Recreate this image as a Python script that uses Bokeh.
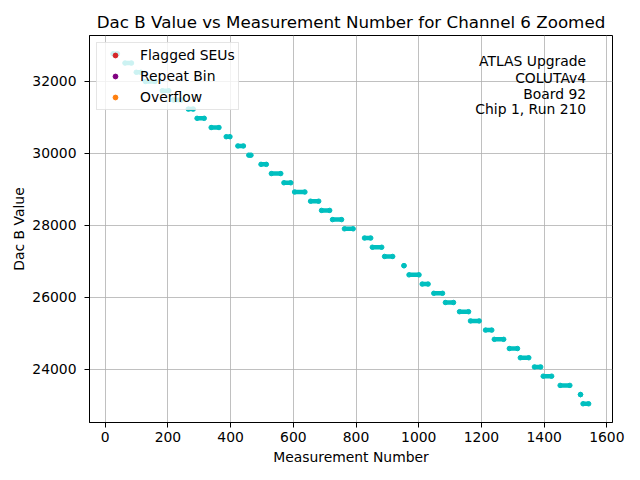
from bokeh.plotting import figure
from bokeh.models import FixedTicker, Label, Range1d
from bokeh.embed import file_html
from bokeh.resources import INLINE

# each run of measurements sitting on one DAC code: first and last measurement number
step_value = [32768, 32512, 32256, 32000, 31744, 31488, 31232, 30976, 30720, 30464,
              30208, 29952, 29696, 29440, 29184, 28928, 28672, 28416, 28160, 27904,
              27648, 27392, 27136, 26880, 26624, 26368, 26112, 25856, 25600, 25344,
              25088, 24832, 24576, 24320, 24064, 23808, 23552, 23296, 23040]
step_start = [25, 63, 99, 128, 182, 217, 265, 293, 338, 386,
              423, 458, 497, 530, 570, 604, 655, 690, 725, 763,
              827, 852, 891, 953, 969, 1011, 1048, 1085, 1130, 1165,
              1213, 1241, 1289, 1324, 1369, 1397, 1451, 1516, 1524]
step_end = [39, 84, 114, 159, 203, 243, 281, 316, 363, 398,
            441, 465, 514, 560, 592, 637, 681, 716, 754, 791,
            847, 882, 917, 953, 1001, 1030, 1076, 1111, 1159, 1193,
            1233, 1271, 1315, 1351, 1389, 1424, 1482, 1516, 1542]

# no flagged / repeat / overflow points in this zoomed view
flagged_x, flagged_y = [float("nan")], [float("nan")]
repeat_x, repeat_y = [float("nan")], [float("nan")]
overflow_x, overflow_y = [float("nan")], [float("nan")]

x_ticks = [0, 200, 400, 600, 800, 1000, 1200, 1400, 1600]
y_ticks = [24000, 26000, 28000, 30000, 32000]
info_lines = ["ATLAS Upgrade", "COLUTAv4", "Board 92", "Chip 1, Run 210"]
info_y = [32556, 32083, 31639, 31222]

FONT = "DejaVu Sans"
CYAN = "#00bfbf"

p = figure(width=632, height=472, output_backend="svg", toolbar_location=None,
           x_range=Range1d(-50, 1618), y_range=Range1d(22520, 33278),
           title="Dac B Value vs Measurement Number for Channel 6 Zoomed",
           min_border_left=89, min_border_right=20, min_border_top=35, min_border_bottom=50)

p.title.align = "center"
p.title.text_font = FONT
p.title.text_font_size = "16.7px"
p.title.text_font_style = "normal"
p.title.text_color = "black"
p.title.standoff = 7

p.outline_line_color = "black"
p.outline_line_width = 1

for ax in (p.xaxis, p.yaxis):
    ax.axis_line_color = "black"
    ax.major_tick_line_color = "black"
    ax.major_tick_out = 5
    ax.major_tick_in = 0
    ax.minor_tick_out = 0
    ax.minor_tick_in = 0
    ax.major_label_text_font = FONT
    ax.major_label_text_font_size = "13.9px"
    ax.major_label_text_color = "black"
    ax.axis_label_text_font = FONT
    ax.axis_label_text_font_size = "13.9px"
    ax.axis_label_text_font_style = "normal"
    ax.axis_label_text_color = "black"

p.xaxis.major_label_standoff = 4
p.xaxis.axis_label_standoff = 4
p.yaxis.major_label_standoff = 8
p.yaxis.axis_label_standoff = 2

p.xaxis.ticker = FixedTicker(ticks=x_ticks)
p.yaxis.ticker = FixedTicker(ticks=y_ticks)
p.xaxis.axis_label = "Measurement Number"
p.yaxis.axis_label = "Dac B Value"

p.xgrid.ticker = FixedTicker(ticks=x_ticks)
p.ygrid.ticker = FixedTicker(ticks=y_ticks)
p.grid.grid_line_color = "#b0b0b0"
p.grid.grid_line_width = 0.8

# the measurements
p.segment(x0=step_start, y0=step_value, x1=step_end, y1=step_value,
          line_color=CYAN, line_width=4.5)
p.scatter(step_start, step_value, size=4.5, color=CYAN)
p.scatter(step_end, step_value, size=4.5, color=CYAN)

p.scatter(flagged_x, flagged_y, size=5, color="#d62728", legend_label="Flagged SEUs")
p.scatter(repeat_x, repeat_y, size=5, color="#800080", legend_label="Repeat Bin")
p.scatter(overflow_x, overflow_y, size=5, color="#ff7f0e", legend_label="Overflow")

leg = p.legend[0]
leg.location = "top_left"
leg.margin = 7
leg.padding = 3
leg.spacing = 3
leg.glyph_width = 30
leg.glyph_height = 12
leg.label_height = 18
leg.label_standoff = 10
leg.label_text_font = FONT
leg.label_text_font_size = "13.9px"
leg.label_text_color = "black"
leg.background_fill_alpha = 0.8
leg.border_line_color = "#cccccc"
leg.border_line_width = 1

for txt, yv in zip(info_lines, info_y):
    p.add_layout(Label(x=1534, y=yv, text=txt, text_align="right", text_baseline="middle",
                       text_font=FONT, text_font_size="13.9px", text_color="black"))

open("out.html", "w").write(file_html(p, INLINE))
